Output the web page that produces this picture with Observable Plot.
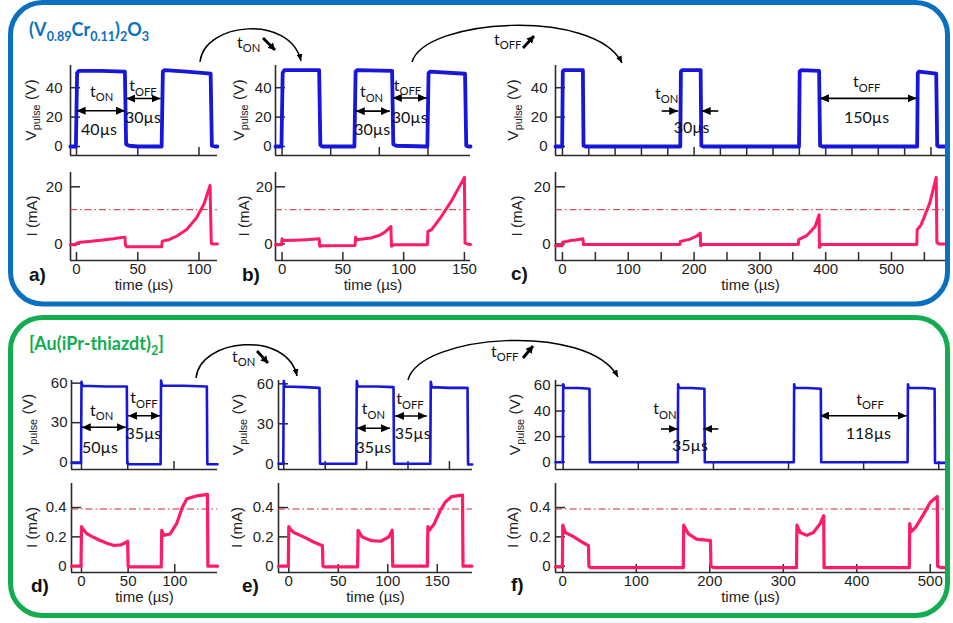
<!DOCTYPE html>
<html><head><meta charset="utf-8">
<script src="https://cdn.jsdelivr.net/npm/d3@7"></script>
<script src="https://cdn.jsdelivr.net/npm/@observablehq/plot@0.6"></script>
<style>
html,body{margin:0;padding:0;background:#fff;}
#root{position:relative;width:953px;height:623px;overflow:hidden;background:#fff;}
</style></head><body><div id="root"></div>
<script>
// ---------- data: [time (µs), value] ----------
const voltageA = [[-5,0],[-0.5,0],[0.5,50],[2,51.5],[20,51.5],[39.5,51],[40.5,1.5],[43,0.5],[50,0],[69.5,0],[70.5,51],[72,52],[90,51],[109.5,49.5],[110.5,0.5],[113,0],[115,0]];
const currentA = [[-5,-0.3],[-0.5,-0.3],[0,0.3],[3,0.6],[10,0.9],[20,1.3],[30,1.8],[39.5,2.4],[40,-0.5],[41,-1.0],[55,-1.0],[69.5,-1.0],[70,1.0],[76,1.6],[82,2.8],[90,5.1],[98,9.2],[104,13.9],[109,20.5],[110,0.2],[112,0],[115,0]];
const voltageB = [[-5.4,0],[-0.5,0],[0.5,50],[2,52],[30.5,52],[31.5,1],[33,0],[59.5,0],[60.5,51],[62,52],[90.5,51.5],[91.5,1.5],[94,0.5],[119.5,0],[120.5,50],[122,51],[150.5,49.5],[151.5,0.5],[153,0],[155,0]];
const currentB = [[-5.4,-0.3],[-0.5,-0.3],[0,1.8],[1,1.2],[10,1.3],[20,1.5],[30.5,1.8],[31,-0.8],[33,-0.6],[60,-0.5],[60.5,2.4],[61.5,1.5],[73,2.1],[81,3.2],[85,4.3],[89.5,6.1],[90,-0.8],[92,-0.3],[119.5,-0.3],[120,4.4],[123,5],[131,9.6],[139,14.8],[150,23.3],[150.5,0.3],[153,-0.1],[155,-0.2]];
const voltageC = [[-10.6,0],[-0.5,0],[0.5,51],[2,52],[31,52],[32,0.5],[35,0],[179,0],[180,51],[182,52],[210,52],[211,0.5],[214,0],[359.5,0],[360.5,51],[363,52],[390,51.5],[391.5,0.5],[395,0],[539,0],[540,50],[542,51],[568,49.5],[569.5,0.5],[572,0],[582,0]];
const currentC = [[-10.6,-0.6],[-0.5,-0.6],[0,0.6],[10,1.1],[20,1.4],[31,1.8],[32,-0.3],[35,-0.2],[178.5,-0.2],[179,0.9],[194,1.7],[204,2.8],[209.5,3.8],[210,-0.6],[213,-0.2],[358.5,-0.2],[359,1.5],[371,2.9],[384,6.1],[390,10.2],[390.5,-1.2],[393,-0.2],[538.5,-0.2],[539,5],[545,6.7],[558,14.2],[568,23.3],[569,0.5],[572,0],[582,0]];
const voltageD = [[-10.8,-0.5],[-0.5,-0.5],[0,61],[1,58],[25,57.5],[49,57.5],[49.5,-1],[52,-1.5],[85.5,-1.5],[86,62],[87,58],[110,58],[135.5,57.5],[136,-1.5],[140,-1.5],[147,-1.5]];
const currentD = [[-10.7,0],[-0.5,0],[0,0.27],[2,0.25],[6,0.22],[12,0.2],[20,0.175],[28,0.155],[35,0.141],[42,0.145],[47,0.16],[49.5,0.17],[50,0],[52,-0.005],[85.5,-0.005],[86,0.245],[88,0.21],[95,0.22],[102,0.29],[108,0.4],[113,0.46],[124,0.48],[135,0.49],[135.5,0],[140,0],[145.8,0]];
const voltageE = [[-5.1,0],[-0.5,0],[0,62],[1,58],[20,57.5],[34.5,57],[35,0],[70,0],[70.5,62],[71.5,58],[90,58],[106,57.5],[106.5,0],[141.5,0],[142,61.5],[143,57.5],[160,57],[177.5,57],[178,-0.5],[182,-0.5]];
const currentE = [[-10.4,0],[-0.5,0],[0,0.27],[2,0.25],[5,0.23],[15,0.2],[25,0.165],[34,0.14],[34.5,0],[37,-0.005],[69.5,-0.005],[70,0.245],[74,0.2],[83,0.175],[93,0.17],[101,0.2],[104.5,0.245],[105,0],[108,0],[140,0],[140.5,0.27],[142,0.245],[147,0.29],[153,0.38],[158,0.436],[164.5,0.475],[175.5,0.485],[176,0],[180,0],[185,0]];
const voltageF = [[-10.2,0],[-0.5,0],[0,61],[1,58],[20,58],[35,57.5],[35.5,0],[152.5,0],[153,61],[154,58],[170,58],[188,57.5],[188.5,0],[307,0],[307.5,61],[308.5,58],[325,58],[343,57.5],[343.5,0],[458.5,0],[459,61],[460,58],[480,58],[494.5,57.5],[495,-0.5],[509,-0.5]];
const currentF = [[-9.9,-0.005],[-0.5,-0.005],[0,0.28],[3.5,0.23],[15,0.2],[26,0.165],[35,0.14],[35.5,0],[38,-0.01],[164,-0.01],[164.5,0.28],[171,0.22],[182,0.185],[201,0.175],[201.5,0],[205,-0.01],[318,-0.01],[318.5,0.28],[323,0.23],[332,0.21],[341,0.23],[350,0.29],[355,0.345],[355.5,-0.01],[360,-0.01],[471.5,-0.01],[472,0.29],[474,0.235],[480,0.265],[491,0.355],[500,0.436],[509.5,0.475],[510,0],[515,-0.01],[520,-0.01]];

// ---------- ticks ----------
const vxTicksA = [0,50,100], ixTicksA = [0,50,100];
const vxTicksB = [0,40,80,120], ixTicksB = [0,50,100,150];
const vxTicksC = [0,40,80,120,160,200,240,280,320,360,400,440,480,520,560];
const ixTicksC = [0,50,100,150,200,250,300,350,400,450,500,550];
const ixLabelsC = [0,100,200,300,400,500];
const vxTicksD = [0,50,100], ixTicksD = [0,50,100];
const vxTicksE = [0,40,80,120,160], ixTicksE = [0,50,100,150];
const vxTicksF = [0,100,200,300,400,500], ixTicksF = [0,100,200,300,400,500];
const vTicksTop = [0,20,40], iTicksTop = [0,20];
const vTicksDE = [0,30,60], vTicksF = [0,20,40,60], iTicksBottom = [0,0.2,0.4];
const thresholdTop = 12, thresholdBottom = 0.39;

// ---------- annotations (data units) ----------
const annA = {labels:[[21,37,"t","ON"],[18.8,10.8,"40µs"],[54.7,40.5,"t","OFF"],[54.7,19,"30µs"]], arrows:[[0.5,40,24,1],[41,69,32.3,1]]};
const annB = {labels:[[74,36.6,"t","ON"],[74.5,10.8,"30µs"],[103.5,41,"t","OFF"],[105.4,19,"30µs"]], arrows:[[61,89,23.7,1],[91.5,119.5,32.7,1]]};
const annC = {labels:[[159,35.5,"t","ON"],[197,12.2,"30µs"],[463,43.5,"t","OFF"],[463,19,"150µs"]], arrows:[[151.5,176.7,23.8,0],[237.5,212.3,23.8,0],[392,539,32.4,1]]};
const annD = {labels:[[22.4,38.5,"t","ON"],[20.5,10.4,"50µs"],[68,48,"t","OFF"],[67.4,21,"35µs"]], arrows:[[0.8,48.5,26.1,1],[51,85.4,34.9,1]]};
const annE = {labels:[[87,40.7,"t","ON"],[87,11.5,"35µs"],[122.4,48,"t","OFF"],[125,22,"35µs"]], arrows:[[70.9,103.1,26.3,1],[107.9,138.6,35.5,1]]};
const annF = {labels:[[136.2,41,"t","ON"],[169.5,12.3,"35µs"],[409.2,48.5,"t","OFF"],[407,21.7,"118µs"]], arrows:[[130.9,153.1,25.6,0],[207.2,187.2,25.6,0],[342.6,458,36,1]]};

// ---------- layout ----------
const root = document.getElementById("root");
const M = {l: 50, r: 12, t: 10, b: 45};
const AXF = "'Liberation Sans', Arial, sans-serif";
const ANF = "Lato, 'Open Sans', sans-serif";
const BLUE = "#1717dc", PINK = "#ff1a6a", AX = "#2b2b2b";

function makePanel(s) {
  const W = s.w + M.l + M.r, H = s.h + M.t + M.b;
  const rows = s.data.map(([t, v]) => ({t, v}));
  const marks = [
    Plot.tickX(s.xt, {x: d => d, insetTop: s.h - 8, stroke: AX, strokeWidth: 1.5}),
    Plot.tickY(s.yt, {y: d => d, insetRight: s.w - 10, stroke: AX, strokeWidth: 1.5}),
    Plot.ruleX([s.xd[0]], {stroke: AX, strokeWidth: 1.6}),
    Plot.ruleY([s.yd[0]], {stroke: AX, strokeWidth: 1.6}),
    Plot.axisY(s.yt, {anchor: "left", tickSize: 0, tickPadding: s.ypad, tickFormat: d => String(d), label: null, fontSize: 15})
  ];
  if (s.thr != null) marks.push(Plot.ruleY([s.thr], {stroke: "#d3262e", strokeWidth: 1, strokeDasharray: "7,3,1.5,3"}));
  marks.push(Plot.line(rows, {x: "t", y: "v", stroke: s.color, strokeWidth: s.sw, strokeLinejoin: "round", strokeLinecap: "round"}));
  if (s.xl) {
    marks.push(Plot.axisX(s.xl, {anchor: "bottom", tickSize: 0, tickPadding: 3, tickFormat: d => String(d), label: null, fontSize: 15}));
    marks.push(Plot.text(["time (µs)"], {text: d => d, frameAnchor: "bottom", dy: 19, lineAnchor: "top", fontSize: 15}));
  }
  const p = Plot.plot({
    width: W, height: H, marginLeft: M.l, marginRight: M.r, marginTop: M.t, marginBottom: M.b,
    x: {domain: s.xd, axis: null}, y: {domain: s.yd, axis: null},
    style: {background: "transparent", overflow: "visible", fontFamily: AXF, fontSize: "15px", color: "#222"},
    marks
  });
  p.style.position = "absolute";
  p.style.left = (s.left - M.l) + "px";
  p.style.top = (s.top - M.t) + "px";
  root.appendChild(p);
  p._spec = s;
  return p;
}

const topV = {top: 65, h: 90, yd: [-6.12, 55.1], yt: vTicksTop, color: BLUE, sw: 3.8};
const topI = {top: 172, h: 88, yd: [-5.77, 25.0], yt: iTicksTop, color: PINK, sw: 3, thr: thresholdTop};
const botV = {top: 380, h: 89, yt: vTicksDE, color: BLUE, sw: 2.6};
const botI = {top: 483, h: 89, yd: [-0.043, 0.564], yt: iTicksBottom, color: PINK, sw: 3.2, thr: thresholdBottom};

const panels = [
  {...topV, left: 70, w: 147, xd: [-4.9, 115.1], xt: vxTicksA, data: voltageA, ypad: 8, ann: annA, ylab: "V", yoff: 34},
  {...topI, left: 70, w: 147, xd: [-4.9, 115.1], xt: ixTicksA, xl: ixTicksA, data: currentA, ypad: 8, ylab: "I", yoff: 33, letter: ["a)", 29, 281]},
  {...topV, left: 275, w: 195, xd: [-5.4, 155], xt: vxTicksB, data: voltageB, ypad: 4, ann: annB, ylab: "V", yoff: 31},
  {...topI, left: 275, w: 195, xd: [-5.4, 155], xt: ixTicksB, xl: ixTicksB, data: currentB, ypad: 3, ylab: "I", yoff: 26, letter: ["b)", 242, 281]},
  {...topV, left: 555, w: 390, xd: [-10.6, 582.1], xt: vxTicksC, data: voltageC, ypad: 8, ann: annC, ylab: "V", yoff: 37},
  {...topI, left: 555, w: 390, xd: [-10.6, 582.1], xt: ixTicksC, xl: ixLabelsC, data: currentC, ypad: 5, ylab: "I", yoff: 33, letter: ["c)", 511, 280]},
  {...botV, left: 71, w: 146, xd: [-10.8, 147], yd: [-5.54, 62.0], xt: vxTicksD, data: voltageD, ypad: 4, ann: annD, ylab: "V", yoff: 38},
  {...botI, left: 71, w: 146, xd: [-10.7, 145.8], xt: ixTicksD, xl: ixTicksD, data: currentD, ypad: 5, ylab: "I", yoff: 34, letter: ["d)", 31, 592]},
  {...botV, left: 278, w: 194, xd: [-5.1, 182.3], yd: [-4.3, 62.5], xt: vxTicksE, data: voltageE, ypad: 5, ann: annE, ylab: "V", yoff: 35},
  {...botI, left: 278, w: 194, xd: [-10.4, 185.6], xt: ixTicksE, xl: ixTicksE, data: currentE, ypad: 5, ylab: "I", yoff: 36, letter: ["e)", 242, 592]},
  {...botV, left: 555, w: 390, xd: [-10.25, 509], yd: [-5.7, 63.9], yt: vTicksF, xt: vxTicksF, data: voltageF, ypad: 5, ann: annF, ylab: "V", yoff: 35},
  {...botI, left: 555, w: 390, xd: [-9.9, 520.7], xt: ixTicksF, xl: ixTicksF, data: currentF, ypad: 5, ylab: "I", yoff: 37, letter: ["f)", 511, 591]}
];

const plots = panels.map(makePanel);

// ---------- overlay ----------
const ov = d3.select(root).append("svg").attr("width", 953).attr("height", 623)
  .style("position", "absolute").style("left", "0px").style("top", "0px").style("pointer-events", "none");
const defs = ov.append("defs");
function marker(id, len, wid) {
  defs.append("marker").attr("id", id).attr("viewBox", "0 0 10 10").attr("refX", 10).attr("refY", 5)
    .attr("markerWidth", len).attr("markerHeight", wid).attr("markerUnits", "userSpaceOnUse")
    .attr("orient", "auto-start-reverse").attr("preserveAspectRatio", "none")
    .append("path").attr("d", "M0,0 L10,5 L0,10 Z").attr("fill", "#000");
}
marker("ah", 9, 8);
marker("ah2", 7, 6);
marker("ah3", 7, 8);

function rich(g, x, y, parts, size, family, fill, anchor, weight) {
  const t = g.append("text").attr("x", x).attr("y", y).attr("text-anchor", anchor || "middle")
    .attr("font-family", family).attr("font-size", size).attr("fill", fill || "#000").attr("font-weight", weight || 400);
  const shift = size * 0.28;
  let low = false;
  for (const [s, sub] of parts) {
    const ts = t.append("tspan").text(s);
    if (sub && !low) { ts.attr("dy", shift); low = true; }
    else if (!sub && low) { ts.attr("dy", -shift); low = false; }
    if (sub) ts.attr("font-size", size * 0.7);
  }
  return t;
}

// frames
ov.append("rect").attr("x", 10.5).attr("y", 2.5).attr("width", 937).attr("height", 301.5).attr("rx", 32)
  .attr("fill", "none").attr("stroke", "#0b6fc0").attr("stroke-width", 5);
ov.append("rect").attr("x", 10.5).attr("y", 317.5).attr("width", 937).attr("height", 298).attr("rx", 32)
  .attr("fill", "none").attr("stroke", "#13ad4f").attr("stroke-width", 5);

// titles
rich(ov, 29, 36, [["(V",0],["0.89",1],["Cr",0],["0.11",1],[")",0],["2",1],["O",0],["3",1]], 18, ANF, "#0b6fc0", "start", 700);
rich(ov, 29, 350, [["[Au(iPr-thiazdt)",0],["2",1],["]",0]], 18, ANF, "#13ad4f", "start", 700);

// per-panel annotations
plots.forEach(p => {
  const s = p._spec;
  const sx = p.scale("x"), sy = p.scale("y");
  const X = t => s.left - M.l + sx.apply(t);
  const Y = v => s.top - M.t + sy.apply(v);
  const cy = s.top + s.h / 2, cx = s.left - s.yoff;
  const g = ov.append("g").attr("transform", `translate(${cx},${cy}) rotate(-90)`);
  if (s.ylab === "V") rich(g, 0, 0, [["V",0],["pulse",1],[" (V)",0]], 15.5, AXF, "#222", "middle");
  else rich(g, 0, 0, [["I (mA)",0]], 15, AXF, "#222", "middle");
  if (s.letter) rich(ov, s.letter[1], s.letter[2], [[s.letter[0],0]], 19, AXF, "#111", "start", 700);
  if (s.ann) {
    for (const [t1, t2, v, both] of s.ann.arrows) {
      const ln = ov.append("line").attr("x1", X(t1)).attr("x2", X(t2)).attr("y1", Y(v)).attr("y2", Y(v))
        .attr("stroke", "#000").attr("stroke-width", 1.6).attr("marker-end", "url(#ah)");
      if (both) ln.attr("marker-start", "url(#ah)");
    }
    for (const [t, v, main, sub] of s.ann.labels) {
      const parts = sub ? [[main,0],[sub,1]] : [[main,0]];
      rich(ov, X(t), Y(v) + 5, parts, 16, ANF, "#111", "middle");
    }
  }
});

// curved arrows between panels
function curve(d) {
  ov.append("path").attr("d", d).attr("fill", "none").attr("stroke", "#000").attr("stroke-width", 1.5).attr("marker-end", "url(#ah2)");
}
function bold(x1, y1, x2, y2) {
  ov.append("line").attr("x1", x1).attr("y1", y1).attr("x2", x2).attr("y2", y2)
    .attr("stroke", "#000").attr("stroke-width", 2.8).attr("marker-end", "url(#ah3)");
}
curve("M200,62 C204,22 290,14 301,61");
rich(ov, 237, 48, [["t",0],["ON",1]], 16, ANF, "#111", "start");
bold(263, 38, 275, 50);
curve("M412,62 C425,18 595,8 622,63");
rich(ov, 494, 45, [["t",0],["OFF",1]], 16, ANF, "#111", "start");
bold(523, 48, 534, 36);
curve("M196,378 C200,338 287,330 297,376");
rich(ov, 232, 362, [["t",0],["ON",1]], 16, ANF, "#111", "start");
bold(257, 351, 268, 363);
curve("M408,380 C420,334 588,322 618,377");
rich(ov, 491, 357, [["t",0],["OFF",1]], 16, ANF, "#111", "start");
bold(523, 358, 533, 346);
</script></body></html>
